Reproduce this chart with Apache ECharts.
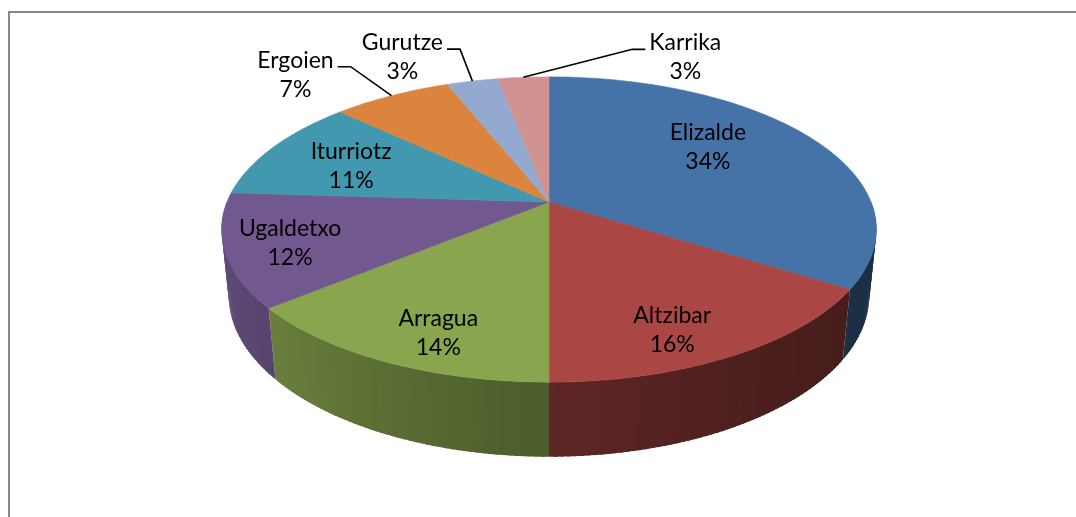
<!DOCTYPE html>
<html>
<head>
<meta charset="utf-8">
<script src="https://cdn.jsdelivr.net/npm/echarts@6/dist/echarts.min.js"></script>
<style>
  html, body { margin: 0; padding: 0; background: #fff; }
  #chart { width: 1076px; height: 517px; }
</style>
</head>
<body>
<div id="chart"></div>
<script>
const categories = ['Elizalde', 'Altzibar', 'Arragua', 'Ugaldetxo', 'Iturriotz', 'Ergoien', 'Gurutze', 'Karrika']
const shares = [34, 16, 14, 12, 11, 7, 3, 3]
const colors = ['#4572a7', '#aa4643', '#89a54e', '#71588f', '#4198af', '#db843d', '#93a9cf', '#d19392']

// label placement (style): inside labels sit on the top face, the small ones get a leader line
const labelInside = [true, true, true, true, true, false, false, false]
const labelRadius = [0.66, 0.82, 0.82, 0.81, 0.69, 1, 1, 1]
const labelTurn = [-8, 5, -4, -1, -2, 0, 0, 0]
const labelShift = [null, null, null, null, null, [-96, -21], [-70, -24], [162, -20]]

// 3d view of the pie
const CX = 549, CY = 202, R = 322, H = 75, D = 1588
const TILT = 27.3 * Math.PI / 180
const FONT = '23px Lato'

const total = shares.reduce((a, b) => a + b, 0)
const starts = []
shares.reduce((acc, v, i) => { starts[i] = acc; return acc + v }, 0)

function toAngle(v) {
  return -90 + v / total * 360   // degrees, 0 = right, 90 = front
}

function project(phi, r, y) {
  const a = phi * Math.PI / 180
  const X = r * Math.cos(a), Z = r * Math.sin(a)
  const s = D / (D - (Z * Math.cos(TILT) + y * Math.sin(TILT)))
  return [CX + X * s, CY + (Z * Math.sin(TILT) - y * Math.cos(TILT)) * s]
}

function shade(hex, k) {
  const n = parseInt(hex.slice(1), 16)
  const r = (n >> 16) & 255, g = (n >> 8) & 255, b = n & 255
  return 'rgb(' + Math.round(r * k) + ',' + Math.round(g * k) + ',' + Math.round(b * k) + ')'
}

function wallLight(phi) {
  const c = (1 - Math.cos(phi * Math.PI / 180)) / 2
  return 0.41 + 0.44 * Math.pow(c, 1.6)
}

const ctx = document.createElement('canvas').getContext('2d')
function textWidth(t) {
  ctx.font = FONT
  return ctx.measureText(t).width
}

function renderWall(params, api) {
  const i = params.dataIndex
  const a0 = Math.max(toAngle(starts[i]), 0)
  const a1 = Math.min(toAngle(starts[i] + api.value(0)), 180)
  if (a1 <= a0) return
  const steps = Math.max(1, Math.ceil(a1 - a0))
  const quads = []
  for (let k = 0; k < steps; k++) {
    // small overlap between neighbours hides the anti-aliasing seams
    const p = Math.max(a0, a0 + (a1 - a0) * k / steps - 0.35)
    const q = Math.min(a1, a0 + (a1 - a0) * (k + 1) / steps + 0.35)
    const m = (p + q) / 2
    quads.push({
      depth: Math.sin(m * Math.PI / 180),
      el: {
        type: 'polygon',
        shape: { points: [project(p, R, 0), project(q, R, 0), project(q, R, -H), project(p, R, -H)] },
        style: { fill: shade(colors[i], wallLight(m)) },
      },
    })
  }
  quads.sort((a, b) => a.depth - b.depth)
  return { type: 'group', children: quads.map(q => q.el) }
}

function renderTop(params, api) {
  const i = params.dataIndex
  const v = api.value(0)
  const a0 = toAngle(starts[i]), a1 = toAngle(starts[i] + v)
  const steps = Math.max(2, Math.ceil(a1 - a0))
  const pts = [project(0, 0, 0)]
  for (let k = 0; k <= steps; k++) pts.push(project(a0 + (a1 - a0) * k / steps, R, 0))
  const children = [{
    type: 'polygon',
    shape: { points: pts },
    style: { fill: colors[i], stroke: colors[i], lineWidth: 0.6 },
  }]

  const text = categories[i] + '\n' + v + '%'
  const mid = (a0 + a1) / 2
  let tx, ty
  if (labelInside[i]) {
    [tx, ty] = project(mid + labelTurn[i], R * labelRadius[i], 0)
  } else {
    const anchor = project(mid, R, 0)
    tx = anchor[0] + labelShift[i][0]
    ty = anchor[1] + labelShift[i][1]
    const half = textWidth(categories[i]) / 2
    const dir = labelShift[i][0] < 0 ? 1 : -1
    const edge = tx + dir * half
    children.push({
      type: 'polyline',
      shape: { points: [anchor, [edge + dir * 17, ty - 8], [edge + dir * 4, ty - 8]] },
      style: { stroke: '#000', lineWidth: 1.6, fill: null },
    })
  }
  children.push({
    type: 'text',
    x: tx,
    y: ty,
    style: {
      text: text,
      font: FONT,
      lineHeight: 29,
      fill: '#000',
      align: 'center',
      verticalAlign: 'middle',
    },
  })
  return { type: 'group', children }
}

const seriesData = categories.map((name, i) => ({ name, value: shares[i] }))

const chart = echarts.init(document.getElementById('chart'))
chart.setOption({
  animation: false,
  backgroundColor: '#fff',
  graphic: [{
    type: 'rect',
    shape: { x: 9, y: 12, width: 1200, height: 700 },
    style: { fill: null, stroke: '#878787', lineWidth: 2 },
    silent: true,
  }],
  series: [
    { type: 'custom', coordinateSystem: 'none', silent: true, z: 1, renderItem: renderWall, data: seriesData },
    { type: 'custom', coordinateSystem: 'none', silent: true, z: 2, renderItem: renderTop, data: seriesData },
  ],
})
</script>
</body>
</html>
